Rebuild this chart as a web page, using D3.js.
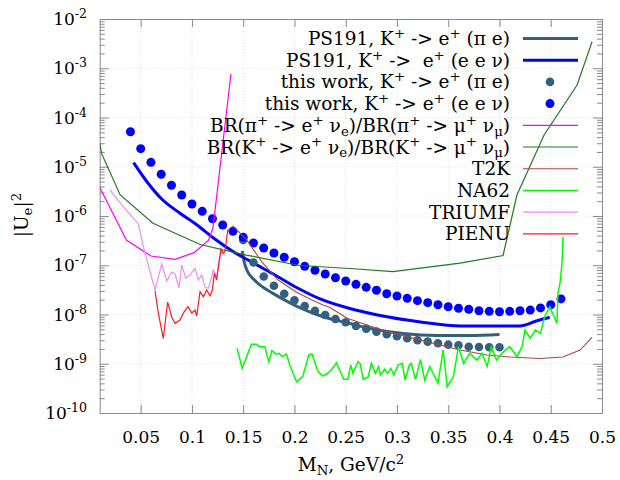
<!DOCTYPE html>
<html><head><meta charset="utf-8">
<script src="https://cdn.jsdelivr.net/npm/d3@7"></script>
<style>
body{margin:0;background:#fff;}
text{font-family:"DejaVu Serif",serif;fill:#000;white-space:pre;}
</style>
</head><body>
<svg id="chart" width="620" height="480"></svg>
<script>
// ---------- data ----------
const xTickValues = [0.05,0.1,0.15,0.2,0.25,0.3,0.35,0.4,0.45,0.5];
const xTickLabels = ["0.05","0.1","0.15","0.2","0.25","0.3","0.35","0.4","0.45","0.5"];
const yTickExponents = [-2,-3,-4,-5,-6,-7,-8,-9,-10];

const ps191PiE_x = [0.149,0.151,0.154,0.160,0.169,0.179,0.203,0.228,0.254,0.274,0.306,0.339,0.371,0.400];
const ps191PiE_y = [1.95e-7,1.16e-7,7.64e-8,5.26e-8,3.61e-8,2.69e-8,1.45e-8,9.02e-9,6.56e-9,5.2e-9,4.11e-9,3.75e-9,3.75e-9,3.93e-9];

const ps191EeNu_x = [0.043,0.057,0.0705,0.088,0.105,0.121,0.140,0.159,0.181,0.203,0.225,0.254,0.281,0.323,0.362,0.420,0.436,0.449];
const ps191EeNu_y = [1.21e-5,4.68e-6,2.21e-6,1.15e-6,6.56e-7,3.57e-7,1.90e-7,1.14e-7,6.34e-8,3.45e-8,2.07e-8,1.32e-8,9.77e-9,7.05e-9,5.84e-9,5.84e-9,7.38e-9,8.77e-9];

const thisPiE_x = [0.15,0.16,0.17,0.18,0.19,0.20,0.21,0.22,0.23,0.24,0.25,0.26,0.27,0.28,0.29,0.30,0.31,0.32,0.33,0.34,0.35,0.36,0.37,0.38,0.39,0.40];
const thisPiE_y = [3.26e-7,1.14e-7,5.91e-8,3.83e-8,2.64e-8,1.94e-8,1.49e-8,1.19e-8,9.77e-9,8.11e-9,6.95e-9,5.84e-9,5.15e-9,4.48e-9,3.96e-9,3.61e-9,3.29e-9,2.99e-9,2.81e-9,2.60e-9,2.44e-9,2.37e-9,2.22e-9,2.19e-9,2.16e-9,2.16e-9];

const thisEeNu_x = [0.04,0.05,0.06,0.07,0.08,0.09,0.10,0.11,0.12,0.13,0.14,0.15,0.16,0.17,0.18,0.19,0.20,0.21,0.22,0.23,0.24,0.25,0.26,0.27,0.28,0.29,0.30,0.31,0.32,0.33,0.34,0.35,0.36,0.37,0.38,0.39,0.40,0.41,0.42,0.43,0.44,0.45,0.46];
const thisEeNu_y = [5.15e-5,2.33e-5,1.23e-5,7.03e-6,4.21e-6,2.67e-6,1.75e-6,1.245e-6,8.8e-7,6.56e-7,4.89e-7,3.69e-7,2.83e-7,2.24e-7,1.77e-7,1.45e-7,1.18e-7,9.5e-8,7.9e-8,6.64e-8,5.58e-8,4.79e-8,4.10e-8,3.56e-8,3.10e-8,2.64e-8,2.38e-8,2.13e-8,1.91e-8,1.74e-8,1.58e-8,1.44e-8,1.34e-8,1.28e-8,1.19e-8,1.16e-8,1.14e-8,1.16e-8,1.19e-8,1.23e-8,1.36e-8,1.58e-8,2.07e-8];

const brPi_x = [0.010,0.036,0.060,0.0835,0.102,0.116,0.1205,0.138];
const brPi_y = [3.83e-6,3.26e-7,1.54e-7,1.32e-7,1.80e-7,3.18e-7,5.70e-7,7.64e-4];

const brK_x = [0.010,0.012,0.030,0.062,0.108,0.153,0.205,0.254,0.296,0.3615,0.4035,0.417,0.4435,0.4757,0.4903];
const brK_y = [2.99e-5,1.82e-5,2.67e-6,7.11e-7,2.64e-7,1.61e-7,9.88e-8,8.59e-8,7.40e-8,1.10e-7,1.58e-7,2.67e-6,4.42e-5,4.57e-4,3.46e-3];

const t2k_x = [0.1396,0.1534,0.1683,0.184,0.2025,0.2161,0.2279,0.2347,0.2513,0.2903,0.3293,0.3615,0.3879,0.4103,0.4396,0.462,0.4786,0.4903];
const t2k_y = [6.41e-7,3.26e-7,1.16e-7,5.01e-8,2.80e-8,2.02e-8,1.56e-8,1.39e-8,8.37e-9,4.48e-9,2.81e-9,1.90e-9,1.51e-9,1.37e-9,1.28e-9,1.37e-9,1.90e-9,3.44e-9];

const na62_x = [0.144,0.149,0.158,0.163,0.166,0.171,0.175,0.178,0.182,0.185,0.188,0.192,0.196,0.202,0.208,0.214,0.217,0.223,0.228,0.232,0.236,0.241,0.244,0.248,0.252,0.255,0.257,0.262,0.264,0.267,0.272,0.275,0.279,0.282,0.284,0.288,0.291,0.294,0.297,0.301,0.305,0.308,0.312,0.314,0.318,0.323,0.327,0.332,0.340,0.345,0.349,0.355,0.360,0.365,0.371,0.378,0.383,0.388,0.392,0.397,0.404,0.410,0.417,0.422,0.425,0.430,0.435,0.440,0.444,0.449,0.456,0.457,0.459,0.461,0.462];
const na62_y = [2.06e-9,8.07e-10,2.48e-9,2.48e-9,2.22e-9,2.22e-9,1.10e-9,1.84e-9,1.56e-9,1.63e-9,1.39e-9,1.58e-9,8.71e-10,4.32e-10,5.46e-10,1.51e-9,1.58e-9,6.90e-10,5.64e-10,6.40e-10,7.46e-10,1.05e-9,7.46e-10,4.83e-10,4.83e-10,9.44e-10,6.40e-10,1.10e-9,1.02e-9,4.83e-10,5.46e-10,1.02e-9,6.40e-10,8.71e-10,5.91e-10,7.71e-10,6.40e-10,8.07e-10,5.91e-10,9.44e-10,1.02e-9,4.68e-10,9.44e-10,1.02e-9,4.83e-10,1.23e-9,4.68e-10,8.71e-10,4.01e-10,1.90e-9,3.42e-10,5.46e-10,2.22e-9,1.02e-9,1.63e-9,1.19e-9,1.63e-9,8.71e-10,2.22e-9,1.19e-9,1.76e-9,2.22e-9,1.39e-9,2.22e-9,4.84e-9,3.29e-9,4.84e-9,4.15e-9,9.02e-9,1.44e-8,6.62e-9,2.69e-8,4.30e-8,1.09e-7,3.80e-7];

const triumf_x = [0.020,0.033,0.0477,0.0542,0.064,0.0705,0.0754,0.0802,0.0835,0.0874,0.090,0.0939,0.0981,0.103,0.1062,0.1095,0.1127,0.116,0.1193,0.1208,0.1241,0.1274,0.1306];
const triumf_y = [3.37e-6,1.55e-6,6.89e-7,1.75e-7,3.14e-8,1.06e-7,4.79e-8,7.29e-8,6.64e-8,3.45e-8,1.01e-7,5.43e-8,6.34e-8,8.67e-8,5.01e-8,6.34e-8,3.61e-8,3.40e-8,5.85e-8,8.01e-8,5.77e-8,1.49e-7,2.14e-7];

const pienu_x = [0.064,0.0672,0.072,0.0763,0.0802,0.0835,0.0883,0.0922,0.0961,0.0998,0.103,0.1046,0.1079,0.1111,0.1144,0.1176,0.1199,0.1218,0.1241,0.1264,0.1283,0.1306,0.1322,0.1349,0.1371];
const pienu_y = [3.00e-8,1.07e-8,3.26e-9,1.79e-8,8.89e-9,6.62e-9,7.73e-9,1.12e-8,1.45e-8,1.07e-8,1.23e-8,9.33e-9,2.90e-8,2.30e-8,3.14e-8,2.38e-8,3.14e-8,6.86e-8,5.01e-8,1.16e-7,2.14e-7,1.75e-7,1.90e-7,5.20e-7,5.20e-7];

// ---------- chart ----------
const svg = d3.select("#chart");
const L = 99.7, R = 602, T = 19, B = 413;
const x = d3.scaleLinear().domain([0.01, 0.5]).range([L, R]);
const y = d3.scaleLog().domain([1e-10, 1e-2]).range([B, T]);
const axisCol = "#8a8a8a";
const FS = 17, LFS = 18.5;

// grid
const g = svg.append("g");
g.selectAll("line.gx").data(xTickValues.slice(0, -1)).enter().append("line")
  .attr("x1", d => x(d)).attr("x2", d => x(d)).attr("y1", T).attr("y2", B)
  .attr("stroke", "#d8d8d8").attr("stroke-width", 0.8).attr("stroke-dasharray", "1,2");
g.selectAll("line.gy").data(yTickExponents.slice(1, -1)).enter().append("line")
  .attr("x1", L).attr("x2", R).attr("y1", d => y(Math.pow(10, d))).attr("y2", d => y(Math.pow(10, d)))
  .attr("stroke", "#d8d8d8").attr("stroke-width", 0.8).attr("stroke-dasharray", "1,2");

// axes via d3 axes (inward ticks)
const minorY = [];
for (let k = -10; k < -2; k++) for (let m = 2; m <= 9; m++) minorY.push(m * Math.pow(10, k));
function styleAxis(sel) {
  sel.selectAll("path").attr("stroke", axisCol);
  sel.selectAll("line").attr("stroke", axisCol);
}
const xb = svg.append("g").attr("transform", `translate(0,${B})`)
  .call(d3.axisBottom(x).tickValues(xTickValues).tickSize(-8).tickSizeOuter(0).tickFormat((d, i) => xTickLabels[i]));
styleAxis(xb);
xb.selectAll("text").attr("y", 30).attr("dy", null).attr("font-size", FS).attr("font-family", "DejaVu Serif").attr("fill", "#000");
const xt = svg.append("g").attr("transform", `translate(0,${T})`)
  .call(d3.axisTop(x).tickValues(xTickValues).tickSize(-8).tickSizeOuter(0).tickFormat(""));
styleAxis(xt);

const yl = svg.append("g").attr("transform", `translate(${L},0)`)
  .call(d3.axisLeft(y).tickValues(yTickExponents.map(e => Math.pow(10, e))).tickSize(-9).tickSizeOuter(0).tickFormat(""));
styleAxis(yl);
const ylm = svg.append("g").attr("transform", `translate(${L},0)`)
  .call(d3.axisLeft(y).tickValues(minorY).tickSize(-5).tickSizeOuter(0).tickFormat(""));
styleAxis(ylm); ylm.select("path").remove();
const yr = svg.append("g").attr("transform", `translate(${R},0)`)
  .call(d3.axisRight(y).tickValues(yTickExponents.map(e => Math.pow(10, e))).tickSize(-9).tickSizeOuter(0).tickFormat(""));
styleAxis(yr);
const yrm = svg.append("g").attr("transform", `translate(${R},0)`)
  .call(d3.axisRight(y).tickValues(minorY).tickSize(-5).tickSizeOuter(0).tickFormat(""));
styleAxis(yrm); yrm.select("path").remove();

// y tick labels 10^k
yTickExponents.forEach(e => {
  const t = svg.append("text").attr("x", 87).attr("y", y(Math.pow(10, e)) + 6)
    .attr("text-anchor", "end").attr("font-size", FS);
  t.append("tspan").text("10");
  t.append("tspan").attr("dy", -7).attr("font-size", 12.5).text(String(e));
});

// rich text helper: segments [text, mode] mode: 0 normal, 1 sup, -1 sub
function rich(sel, segs, fs) {
  let cur = 0;
  segs.forEach(([s, m]) => {
    const shift = m === 1 ? -fs * 0.38 : (m === -1 ? fs * 0.2 : 0);
    const ts = sel.append("tspan").text(s).attr("dy", shift - cur);
    if (m !== 0) ts.attr("font-size", fs * 0.72);
    cur = shift;
  });
}

// axis titles
const xl = svg.append("text").attr("x", 351).attr("y", 471).attr("text-anchor", "middle").attr("font-size", LFS);
rich(xl, [["M",0],["N",-1],[", GeV/c",0],["2",1]], LFS);
const ylab = svg.append("text").attr("transform", "translate(28,215) rotate(-90)").attr("text-anchor", "middle").attr("font-size", LFS);
rich(ylab, [["|U",0],["e",-1],["|",0],["2",1]], LFS);

// series
const clip = svg.append("clipPath").attr("id", "clip").append("rect").attr("x", L).attr("y", T).attr("width", R - L).attr("height", B - T);
const plot = svg.append("g").attr("clip-path", "url(#clip)");
const zip = (xs, ys) => xs.map((v, i) => [v, ys[i]]);
const lineGen = d3.line().x(d => x(d[0])).y(d => y(d[1]));
const smoothGen = d3.line().x(d => x(d[0])).y(d => y(d[1])).curve(d3.curveMonotoneX);

const cPiE = "#34607f", cBlue = "#0000ff", cMag = "#ff00ff", cGreen = "#1f7a1f", cT2K = "#b04545", cNA62 = "#00ff00", cTri = "#f08cf0", cPienu = "#ff1a1a";

plot.append("path").attr("d", smoothGen(zip(ps191PiE_x, ps191PiE_y))).attr("fill", "none").attr("stroke", cPiE).attr("stroke-width", 3);
plot.append("path").attr("d", smoothGen(zip(ps191EeNu_x, ps191EeNu_y))).attr("fill", "none").attr("stroke", cBlue).attr("stroke-width", 3);
plot.selectAll("circle.pie").data(zip(thisPiE_x, thisPiE_y)).enter().append("circle")
  .attr("cx", d => x(d[0])).attr("cy", d => y(d[1])).attr("r", 4.3).attr("fill", cPiE);
plot.selectAll("circle.een").data(zip(thisEeNu_x, thisEeNu_y)).enter().append("circle")
  .attr("cx", d => x(d[0])).attr("cy", d => y(d[1])).attr("r", 4.5).attr("fill", cBlue);
plot.append("path").attr("d", lineGen(zip(brPi_x, brPi_y))).attr("fill", "none").attr("stroke", cMag).attr("stroke-width", 1.2);
plot.append("path").attr("d", lineGen(zip(brK_x, brK_y))).attr("fill", "none").attr("stroke", cGreen).attr("stroke-width", 1.2);
plot.append("path").attr("d", lineGen(zip(t2k_x, t2k_y))).attr("fill", "none").attr("stroke", cT2K).attr("stroke-width", 1.1);
plot.append("path").attr("d", lineGen(zip(na62_x, na62_y))).attr("fill", "none").attr("stroke", cNA62).attr("stroke-width", 1.5);
plot.append("path").attr("d", lineGen(zip(triumf_x, triumf_y))).attr("fill", "none").attr("stroke", cTri).attr("stroke-width", 1.2);
plot.append("path").attr("d", lineGen(zip(pienu_x, pienu_y))).attr("fill", "none").attr("stroke", cPienu).attr("stroke-width", 1.2);

// legend
const legend = [
  {segs:[["PS191, K",0],["+",1],[" -> e",0],["+",1],[" (π e)",0]], type:"line", c:cPiE, w:3},
  {segs:[["PS191, K",0],["+",1],[" ->  e",0],["+",1],[" (e e ν)",0]], type:"line", c:cBlue, w:3},
  {segs:[["this work, K",0],["+",1],[" -> e",0],["+",1],[" (π e)",0]], type:"dot", c:cPiE},
  {segs:[["this work, K",0],["+",1],[" -> e",0],["+",1],[" (e e ν)",0]], type:"dot", c:cBlue},
  {segs:[["BR(π",0],["+",1],[" -> e",0],["+",1],[" ν",0],["e",-1],[")/BR(π",0],["+",1],[" -> μ",0],["+",1],[" ν",0],["μ",-1],[")",0]], type:"line", c:cMag, w:1.2},
  {segs:[["BR(K",0],["+",1],[" -> e",0],["+",1],[" ν",0],["e",-1],[")/BR(K",0],["+",1],[" -> μ",0],["+",1],[" ν",0],["μ",-1],[")",0]], type:"line", c:cGreen, w:1.2},
  {segs:[["T2K",0]], type:"line", c:cT2K, w:1.1},
  {segs:[["NA62",0]], type:"line", c:cNA62, w:1.5},
  {segs:[["TRIUMF",0]], type:"line", c:cTri, w:1.2},
  {segs:[["PIENU",0]], type:"line", c:cPienu, w:1.2}
];
legend.forEach((e, i) => {
  const cy = 38.5 + i * 21.7;
  const t = svg.append("text").attr("x", 510).attr("y", cy + 6.5).attr("text-anchor", "end").attr("font-size", LFS);
  rich(t, e.segs, LFS);
  if (e.type === "line") {
    svg.append("line").attr("x1", 523).attr("x2", 578).attr("y1", cy).attr("y2", cy).attr("stroke", e.c).attr("stroke-width", e.w);
  } else {
    svg.append("circle").attr("cx", 550).attr("cy", cy).attr("r", e.c === cBlue ? 4.5 : 4.3).attr("fill", e.c);
  }
});
</script>
</body></html>
